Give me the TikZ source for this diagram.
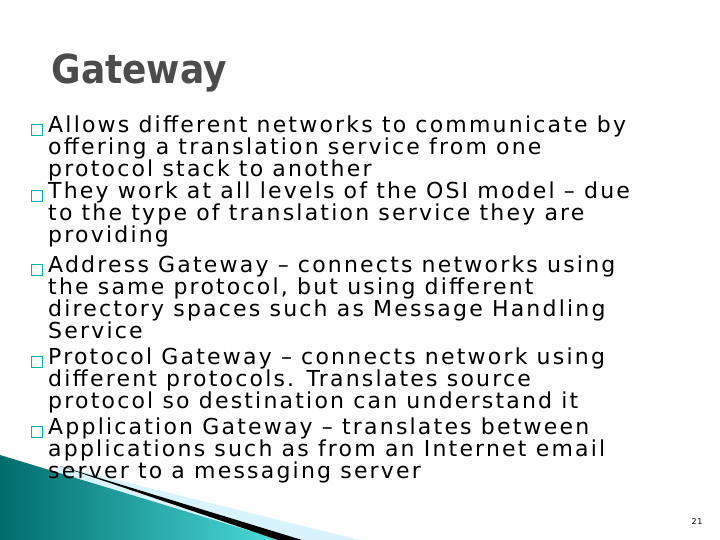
\documentclass[tikz,border=0pt]{standalone}
\usepackage{fontspec}
\setmainfont{DejaVu Sans}[LetterSpace=10]
\newfontfamily\titlefont{DejaVu Sans Condensed Bold}
\begin{document}
\begin{tikzpicture}[x=1pt,y=-1pt,
  item/.style={anchor=north west,align=left,inner sep=0pt,font=\fontsize{22}{21.7}\selectfont},
  bul/.style={draw=teal!60!cyan,fill=white,line width=0.6pt,minimum size=11pt,inner sep=0pt}]
\useasboundingbox (0,0) rectangle (720,540);
\fill[white] (0,0) rectangle (720,540);
% decoration
\fill[cyan!15!white] (60,466) -- (360,540) -- (0,540) -- cycle;
\shade[left color=teal!85!black,right color=cyan!60!teal!70!white] (0,455) -- (280,540) -- (0,540) -- cycle;
\fill[black] (60,466) -- (302,540) -- (278,540) -- cycle;
% title
\node[anchor=west,text=black!70,font=\titlefont\fontsize{40}{40}\selectfont] (t) at (48,73) {Gateway};
% bullets
\node[item] (i1) at (48,116) {Allows different networks to communicate by\\offering a translation service from one\\protocol stack to another};
\node[item] (i2) at (48,182) {They work at all levels of the OSI model – due\\to the type of translation service they are\\providing};
\node[item] (i3) at (48,256) {Address Gateway – connects networks using\\the same protocol, but using different\\directory spaces such as Message Handling\\Service};
\node[item] (i4) at (48,348) {Protocol Gateway – connects network using\\different protocols.  Translates source\\protocol so destination can understand it};
\node[item] (i5) at (48,418) {Application Gateway – translates between\\applications such as from an Internet email\\server to a messaging server};
\foreach \n/\y in {b1/130,b2/196,b3/270,b4/362,b5/432}
  \node[bul] (\n) at (37,\y) {};
\node[font=\fontsize{8}{8}\selectfont] (pg) at (697,522) {21};
\end{tikzpicture}
\end{document}
